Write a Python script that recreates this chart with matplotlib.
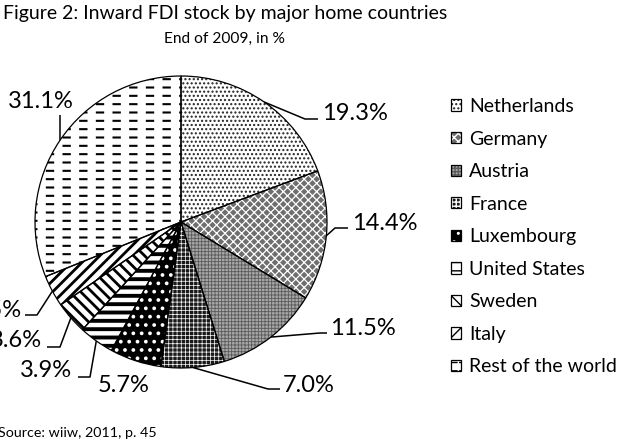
import matplotlib
matplotlib.use('Agg')
import numpy as np
import matplotlib.pyplot as plt
from matplotlib.legend_handler import HandlerTuple

# ---------------- data ----------------
categories = ['Netherlands', 'Germany', 'Austria', 'France', 'Luxembourg',
              'United States', 'Sweden', 'Italy', 'Rest of the world']
values = [19.3, 14.4, 11.5, 7.0, 5.7, 3.9, 3.6, 3.5, 31.1]
value_labels = ['19.3%', '14.4%', '11.5%', '7.0%', '5.7%', '3.9%', '3.6%', '3.5%', '31.1%']
title = 'Figure 2: Inward FDI stock by major home countries'
subtitle = 'End of 2009, in %'
source = 'Source: wiiw, 2011, p. 45'

# ---------------- styles ----------------
faces = ['white', '#6e6e6e', '#a8a8a8', '#1a1a1a', 'black', 'white', 'white', 'white', 'white']
hatches = ['....', 'xxxx', '+++++', '++++', '..', '--', '\\\\\\', '///', '--']
hatch_colors = ['#222222', 'white', '#5a5a5a', 'white', 'white', 'black', 'black', 'black', 'black']
hatch_lws = [1.0, 0.9, 0.6, 0.5, 1.5, 2.8, 2.0, 2.0, 1.5]

FONT = 'Lato'
W, H = 621, 440
CX, CY, R = 181, 222, 146  # pie centre / radius in pixels

fig = plt.figure(figsize=(W / 100, H / 100), dpi=100)
ax = fig.add_axes([0, 0, 1, 1])


def P(px, py):
    return ((px - CX) / R, (CY - py) / R)


def set_hlw(p, lw):
    if hasattr(p, 'set_hatch_linewidth'):
        p.set_hatch_linewidth(lw)
    else:
        p._hatch_linewidth = lw


# hatch layer
w_fill, _ = ax.pie(values, startangle=90, counterclock=False, radius=1, center=(0, 0),
                   colors=faces, wedgeprops=dict(linewidth=0))
for w, h, hc, hl in zip(w_fill, hatches, hatch_colors, hatch_lws):
    w.set_hatch(h)
    w.set_edgecolor(hc)
    w.set_linewidth(0)
    set_hlw(w, hl)

# dash breaker for "Rest of the world"
w_dash, _ = ax.pie(values, startangle=90, counterclock=False, radius=1, center=(0, 0),
                   colors=['none'] * len(values), wedgeprops=dict(linewidth=0))
for i, w in enumerate(w_dash):
    if i == len(values) - 1:
        w.set_hatch('|')
        w.set_edgecolor('white')
        w.set_linewidth(0)
        set_hlw(w, 6.0)
    else:
        w.set_visible(False)

# outlines
w_line, _ = ax.pie(values, startangle=90, counterclock=False, radius=1, center=(0, 0),
                   wedgeprops=dict(fill=False, edgecolor='black', linewidth=0.9))

ax.set_aspect('auto')
ax.set_xlim(-CX / R, (W - CX) / R)
ax.set_ylim((CY - H) / R, CY / R)
ax.axis('off')

# ---------------- value labels with leader lines ----------------
label_layout = [
    ((322, 120), 'left', [(305, 119), (318, 119)]),
    ((352, 230), 'left', [(335, 228), (348, 228)]),
    ((330, 335), 'left', [(320, 333), (327, 333)]),
    ((283, 392), 'left', [(268, 389), (280, 389)]),
    ((98, 392), 'left', None),
    ((72, 377), 'right', [(90, 377), (78, 377)]),
    ((42, 347), 'right', [(60, 347), (47, 347)]),
    ((22, 317), 'right', [(37, 315), (25, 315)]),
    ((8, 108), 'left', [(60, 115)]),
]
for w, lab, (pos, ha, elbow) in zip(w_line, value_labels, label_layout):
    ang = np.deg2rad((w.theta1 + w.theta2) / 2)
    ex, ey = np.cos(ang) * w.r, np.sin(ang) * w.r
    if elbow:
        pts = [(ex, ey)] + [P(*e) for e in elbow]
        xs, ys = zip(*pts)
        ax.plot(xs, ys, color='black', lw=1.1, solid_capstyle='butt')
    tx, ty = P(*pos)
    ax.text(tx, ty, lab, ha=ha, va='baseline', fontsize=17, family=FONT)

# ---------------- titles ----------------
fig.text(225 / W, 1 - 19 / H, title, ha='center', va='baseline', fontsize=14.0, family=FONT)
fig.text(224 / W, 1 - 43 / H, subtitle, ha='center', va='baseline', fontsize=11.2, family=FONT)
fig.text(-2 / W, 1 - 437 / H, source, ha='left', va='baseline', fontsize=10.3, family=FONT)

# ---------------- legend ----------------
handles = []
for i in range(len(values)):
    if i == len(values) - 1:
        handles.append((w_fill[i], w_dash[i], w_line[i]))
    else:
        handles.append((w_fill[i], w_line[i]))
leg = fig.legend(handles, categories, loc='upper left',
                 bbox_to_anchor=(451 / W, 1 - 98 / H), bbox_transform=fig.transFigure,
                 frameon=False, borderpad=0, borderaxespad=0,
                 handlelength=0.52, handleheight=0.52, handletextpad=0.4,
                 labelspacing=0.8, prop=dict(family=FONT, size=14),
                 handler_map={tuple: HandlerTuple(ndivide=1)})

fig.savefig('out.png', dpi=100)
